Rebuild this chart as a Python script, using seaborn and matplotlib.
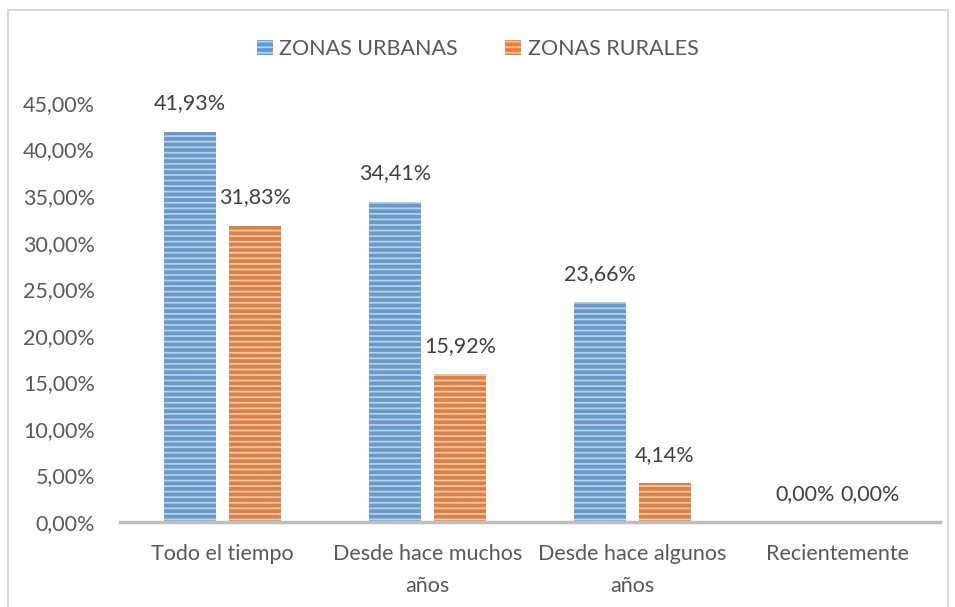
import pandas as pd
import numpy as np
import matplotlib.pyplot as plt
import seaborn as sns
from matplotlib.patches import Rectangle, Patch

# datos del grafico
categorias = ["Todo el tiempo", "Desde hace muchos\naños", "Desde hace algunos\naños", "Recientemente"]
urbanas = [41.93, 34.41, 23.66, 0.00]
rurales = [31.83, 15.92, 4.14, 0.00]
series = ["ZONAS URBANAS", "ZONAS RURALES"]
yticks = [0, 5, 10, 15, 20, 25, 30, 35, 40, 45]

df = pd.DataFrame({
    "categoria": categorias * 2,
    "valor": urbanas + rurales,
    "zona": [series[0]] * 4 + [series[1]] * 4,
})

sns.set_style("white")
plt.rcParams['font.family'] = ['Lato', 'DejaVu Sans']
plt.rcParams['hatch.linewidth'] = 1.3

colores = ["#5B9BD5", "#ED7D31"]
rayas = ["#B4D1EE", "#F8C4A0"]
texto = "#595959"
fs = 15.5

fig = plt.figure(figsize=(9.55, 6.07), dpi=100)
ax = fig.add_axes([120 / 955, 1 - 522 / 607, 820 / 955, 419 / 607])

sns.barplot(data=df, x="categoria", y="valor", hue="zona", palette=colores,
            width=0.634, gap=0.2, ax=ax, legend=False)

# rayas horizontales como en excel
for i, cont in enumerate(ax.containers):
    for bar in cont:
        bar.set_hatch("---")
        bar.set_edgecolor(rayas[i])
        bar.set_linewidth(0)
    etiquetas = [f"{v:.2f}%".replace(".", ",") for v in cont.datavalues]
    ax.bar_label(cont, labels=etiquetas, padding=13, fontsize=fs, color="#404040")

ax.set_ylim(0, 45)
ax.set_xlim(-0.5, 3.5)
ax.set_yticks(yticks)
ax.set_yticklabels([f"{t:.2f}%".replace(".", ",") for t in yticks])
ax.tick_params(axis="both", length=0, labelsize=fs, labelcolor=texto)
ax.tick_params(axis="x", pad=16)
ax.tick_params(axis="y", pad=18)
for lab in ax.get_xticklabels():
    lab.set_linespacing(1.75)
ax.set_xlabel("")
ax.set_ylabel("")
for s in ["top", "right", "left"]:
    ax.spines[s].set_visible(False)
ax.spines["bottom"].set_color("#BFBFBF")
ax.spines["bottom"].set_linewidth(2.5)

handles = [Patch(facecolor=colores[i], edgecolor=rayas[i], hatch="---", linewidth=0) for i in range(2)]
fig.legend(handles, series, loc="center", bbox_to_anchor=(0.5, 1 - 49 / 607), ncol=2,
           frameon=False, fontsize=fs, labelcolor=texto, handlelength=0.75, handleheight=0.75,
           handletextpad=0.3, columnspacing=2.2)

# borde del area del grafico
fig.patches.append(Rectangle((8 / 955, -0.05), 940 / 955, 1 - 10 / 607 + 0.05,
                             transform=fig.transFigure, fill=False, edgecolor="#D9D9D9", linewidth=1.5))

fig.savefig("out.png", dpi=100)
